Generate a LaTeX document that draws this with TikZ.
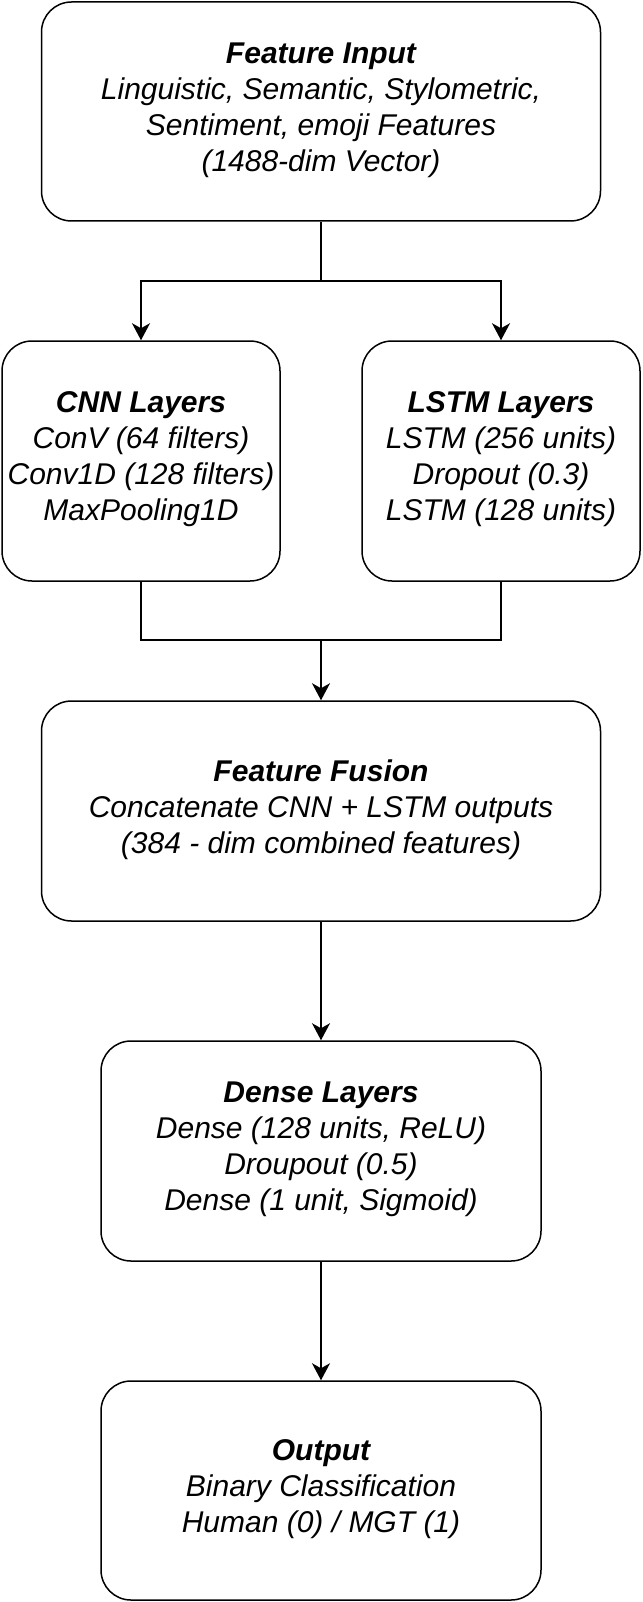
\documentclass[tikz,border=0pt]{standalone}
\usepackage{fontspec}
\setmainfont{Liberation Sans}
\usetikzlibrary{arrows.meta}
\tikzset{
  blk/.style={draw=black, line width=1.5pt, rounded corners=30pt, align=center,
    inner sep=2pt, font=\fontsize{30}{36}\selectfont\itshape,
    execute at begin node={\rule{0pt}{27pt}},
    execute at end node={\rule[-9pt]{0pt}{9pt}}},
  conn/.style={draw=black, line width=1.5pt},
  arr/.style={conn, -{Stealth[length=17pt,width=18pt,inset=5pt]}}
}
\begin{document}
\begin{tikzpicture}[x=1pt,y=-1pt]
\useasboundingbox (0,0) rectangle (642,1602);
\node[blk, minimum width=559pt, minimum height=219pt] (fi) at (321,111.5)
  {\textbf{Feature Input}\\Linguistic, Semantic, Stylometric,\\Sentiment, emoji Features\\(1488-dim Vector)};
\node[blk, minimum width=278pt, minimum height=240pt] (cnn) at (141,461)
  {\textbf{CNN Layers}\\ConV (64 filters)\\Conv1D (128 filters)\\MaxPooling1D};
\node[blk, minimum width=278pt, minimum height=240pt] (lstm) at (501,461)
  {\textbf{LSTM Layers}\\LSTM (256 units)\\Dropout (0.3)\\LSTM (128 units)};
\node[blk, minimum width=559pt, minimum height=220pt] (fus) at (321,811)
  {\textbf{Feature Fusion}\\Concatenate CNN + LSTM outputs\\(384 - dim combined features)};
\node[blk, minimum width=440pt, minimum height=220pt] (dense) at (321,1151)
  {\textbf{Dense Layers}\\Dense (128 units, ReLU)\\Droupout (0.5)\\Dense (1 unit, Sigmoid)};
\node[blk, minimum width=440pt, minimum height=219pt] (out) at (321,1490.5)
  {\textbf{Output}\\Binary Classification\\Human (0) / MGT (1)};
\coordinate (split) at (fi.south |- 0,281);
\coordinate (merge) at (fi.south |- 0,640);
\draw[conn] (fi.south) -- (split);
\draw[arr] (split) -| (cnn.north);
\draw[arr] (split) -| (lstm.north);
\draw[conn] (cnn.south) |- (merge);
\draw[conn] (lstm.south) |- (merge);
\draw[arr] (merge) -- (fus.north);
\draw[arr] (fus.south) -- (dense.north);
\draw[arr] (dense.south) -- (out.north);
\end{tikzpicture}
\end{document}
